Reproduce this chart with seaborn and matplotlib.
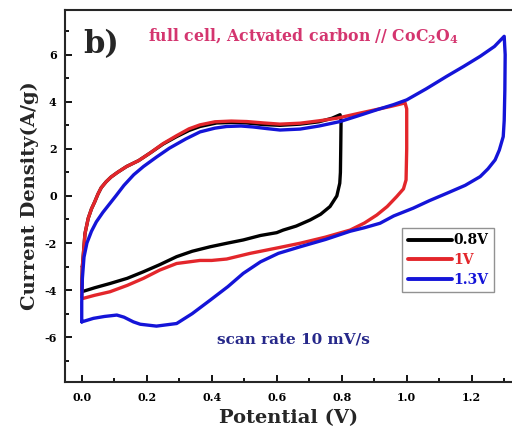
import numpy as np
import pandas as pd
import matplotlib
matplotlib.use("Agg")
import matplotlib.pyplot as plt
from matplotlib.ticker import MultipleLocator, FormatStrFormatter
import seaborn as sns

# ---- data ----
series_labels = ["0.8V", "1V", "1.3V"]

x_08 = [0.002, 0.006, 0.01, 0.02, 0.03, 0.04, 0.05, 0.06, 0.075, 0.09, 0.11, 0.138, 0.175, 0.21,
        0.25, 0.292, 0.33, 0.364, 0.415, 0.46, 0.508, 0.56, 0.61, 0.672, 0.73, 0.77, 0.795, 0.798,
        0.797, 0.796, 0.794, 0.785, 0.764, 0.735, 0.703, 0.66, 0.62, 0.6, 0.55, 0.497, 0.45, 0.395,
        0.34, 0.292, 0.24, 0.19, 0.14, 0.087, 0.04, 0.005, 0.0, 0.002]
y_08 = [-3.0, -2.3, -1.6, -0.95, -0.55, -0.25, 0.08, 0.35, 0.6, 0.8, 1.0, 1.25, 1.5, 1.82,
        2.2, 2.52, 2.78, 2.95, 3.1, 3.12, 3.1, 3.03, 3.0, 3.05, 3.15, 3.3, 3.45, 3.2,
        2.0, 1.0, 0.54, 0.0, -0.45, -0.78, -1.02, -1.28, -1.45, -1.56, -1.68, -1.87, -2.0, -2.16,
        -2.35, -2.58, -2.92, -3.22, -3.5, -3.72, -3.9, -4.05, -4.0, -3.0]

x_10 = [0.002, 0.006, 0.01, 0.02, 0.03, 0.04, 0.05, 0.06, 0.075, 0.09, 0.11, 0.138, 0.175, 0.21,
        0.25, 0.292, 0.33, 0.364, 0.41, 0.46, 0.508, 0.56, 0.61, 0.672, 0.735, 0.785, 0.85, 0.9,
        0.95, 0.995, 1.0, 1.0, 0.998, 0.99, 0.969, 0.94, 0.908, 0.87, 0.826, 0.75, 0.672, 0.605,
        0.518, 0.446, 0.4, 0.364, 0.292, 0.24, 0.19, 0.14, 0.087, 0.04, 0.005, 0.0, 0.002]
y_10 = [-3.0, -2.3, -1.6, -0.95, -0.55, -0.25, 0.08, 0.35, 0.6, 0.8, 1.0, 1.25, 1.5, 1.82,
        2.22, 2.56, 2.85, 3.02, 3.15, 3.18, 3.16, 3.1, 3.05, 3.09, 3.2, 3.3, 3.5, 3.65,
        3.8, 3.95, 3.7, 2.0, 0.68, 0.3, -0.03, -0.45, -0.81, -1.15, -1.45, -1.75, -2.01, -2.2,
        -2.44, -2.68, -2.74, -2.74, -2.87, -3.15, -3.5, -3.8, -4.07, -4.22, -4.35, -4.3, -3.0]

x_13 = [0.0, 0.0, 0.002, 0.007, 0.016, 0.03, 0.045, 0.065, 0.085, 0.105, 0.13, 0.16, 0.19, 0.23,
        0.27, 0.32, 0.364, 0.41, 0.446, 0.49, 0.527, 0.57, 0.61, 0.672, 0.73, 0.795, 0.85, 0.908,
        0.96, 1.0, 1.06, 1.123, 1.175, 1.226, 1.27, 1.3, 1.303, 1.302, 1.3, 1.297, 1.285, 1.272,
        1.25, 1.226, 1.18, 1.123, 1.07, 1.02, 0.96, 0.918, 0.87, 0.826, 0.75, 0.672, 0.605, 0.55,
        0.497, 0.45, 0.395, 0.34, 0.292, 0.23, 0.18, 0.159, 0.13, 0.108, 0.07, 0.036, 0.005, 0.0]
y_13 = [-5.35, -4.5, -3.5, -2.6, -2.0, -1.5, -1.1, -0.7, -0.35, 0.0, 0.45, 0.9, 1.25, 1.65,
        2.03, 2.42, 2.72, 2.88, 2.95, 2.97, 2.93, 2.86, 2.8, 2.84, 2.97, 3.16, 3.4, 3.66,
        3.88, 4.08, 4.55, 5.08, 5.5, 5.93, 6.35, 6.78, 6.0, 4.5, 3.2, 2.52, 1.95, 1.53,
        1.15, 0.82, 0.45, 0.11, -0.2, -0.52, -0.85, -1.16, -1.35, -1.5, -1.85, -2.16, -2.44, -2.8,
        -3.29, -3.85, -4.43, -5.0, -5.42, -5.53, -5.45, -5.35, -5.15, -5.06, -5.12, -5.2, -5.33, -5.35]

x_ticks = [0.0, 0.2, 0.4, 0.6, 0.8, 1.0, 1.2]
y_ticks = [-6, -4, -2, 0, 2, 4, 6]

colors = {"0.8V": "#000000", "1V": "#e3262b", "1.3V": "#1414d8"}

frames = []
for lab, xs, ys in zip(series_labels, [x_08, x_10, x_13], [y_08, y_10, y_13]):
    frames.append(pd.DataFrame({"Potential": xs, "Current": ys, "scan": lab}))
df = pd.concat(frames, ignore_index=True)

# ---- style ----
sns.set_style("ticks")
FONT = ["DejaVu Serif"]
plt.rcParams["font.family"] = FONT
plt.rcParams["font.weight"] = "bold"
plt.rcParams["axes.unicode_minus"] = False
plt.rcParams["mathtext.fontset"] = "custom"
plt.rcParams["mathtext.rm"] = "DejaVu Serif:bold"
plt.rcParams["mathtext.bf"] = "DejaVu Serif:bold"

fig = plt.figure(figsize=(5.12, 4.33), dpi=100)
ax = fig.add_axes([0.127, 0.118, 0.873, 0.859])

sns.lineplot(data=df, x="Potential", y="Current", hue="scan", units="scan",
             sort=False, estimator=None, palette=colors, linewidth=2.4, ax=ax)

ax.set_xlim(-0.0514, 1.324)
ax.set_ylim(-7.9, 7.9)
ax.set_xticks(x_ticks)
ax.set_yticks(y_ticks)
ax.xaxis.set_major_formatter(FormatStrFormatter("%.1f"))
ax.xaxis.set_minor_locator(MultipleLocator(0.1))
ax.yaxis.set_minor_locator(MultipleLocator(1))
ax.tick_params(which="both", direction="in", width=1.3, labelsize=8, colors="black")
ax.tick_params(which="major", length=5)
ax.tick_params(which="minor", length=3)
ax.tick_params(axis="x", pad=7)
ax.tick_params(axis="y", pad=6)
for lab in ax.get_xticklabels() + ax.get_yticklabels():
    lab.set_fontweight("bold")

for s in ["left", "bottom", "top"]:
    ax.spines[s].set_linewidth(1.5)
ax.spines["right"].set_visible(False)

ax.set_xlabel("Potential (V)", fontsize=14, fontweight="bold", labelpad=5)
ax.set_ylabel("Current Density(A/g)", fontsize=14, fontweight="bold", labelpad=4)

ax.text(0.04, 0.948, "b)", transform=ax.transAxes, fontsize=22, fontweight="bold",
        va="top", ha="left")
ax.text(0.185, 0.955, r"full cell, Actvated carbon // CoC$_2$O$_4$", transform=ax.transAxes,
        fontsize=11.3, fontweight="bold", color="#d4356f", va="top", ha="left")
ax.text(0.34, 0.115, "scan rate 10 mV/s", transform=ax.transAxes, fontsize=11,
        fontweight="bold", color="#26288a", va="center", ha="left")

handles, labels = ax.get_legend_handles_labels()
leg = ax.legend(handles, labels, loc="upper left", bbox_to_anchor=(0.754, 0.414),
                borderaxespad=0, frameon=True, fancybox=False, edgecolor="#777777",
                handlelength=3.2, handletextpad=0.1, borderpad=0.4, labelspacing=0.4,
                prop={"family": FONT, "weight": "bold", "size": 10})
leg.get_frame().set_linewidth(1.0)
for txt, lab in zip(leg.get_texts(), labels):
    txt.set_color(colors[lab])
for line in leg.get_lines():
    line.set_linewidth(2.8)

fig.savefig("out.png", dpi=100)
